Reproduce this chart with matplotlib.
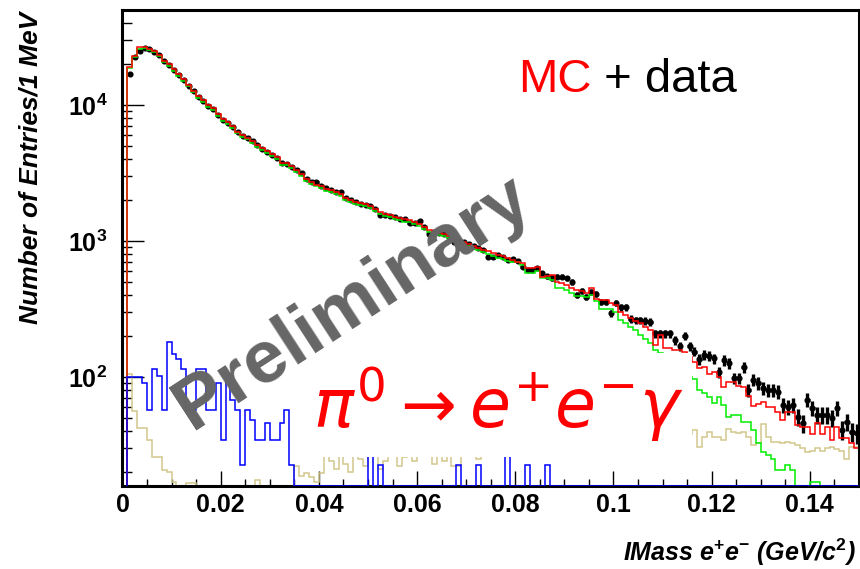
import numpy as np
import matplotlib
matplotlib.use("Agg")
import matplotlib.pyplot as plt
from matplotlib import ticker
from matplotlib.patches import Rectangle

# 1 MeV bins, first bin starts at 1 MeV
BIN_LO = 0.001
BIN_W = 0.001

# MC total (red)
red_mc = [19000, 22900, 26500, 26700, 25800, 24900, 23300, 21200, 19900, 18300,
          16800, 15500, 14000, 12700, 11600, 10800, 10000, 9460, 8560, 7860,
          7460, 7010, 6370, 6020, 5750, 5440, 5080, 4810, 4590, 4340,
          4120, 3760, 3720, 3560, 3330, 3110, 2860, 2720, 2600, 2540,
          2430, 2370, 2310, 2220, 2070, 2000, 1940, 1890, 1870, 1810,
          1720, 1640, 1590, 1550, 1500, 1470, 1440, 1430, 1380, 1330,
          1270, 1200, 1170, 1140, 1120, 1090, 1050, 1020, 984, 951,
          919, 893, 866, 844, 816, 789, 776, 750, 725, 705,
          689, 630, 633, 647, 546, 557, 562, 502, 491, 475,
          451, 436, 429, 417, 449, 375, 368, 368, 350, 338,
          302, 286, 270, 258, 248, 233, 222, 172, 204, 163,
          163, 158, 158, 153, 140, 130, 116, 118, 105, 109,
          99.5, 84, 92, 92, 86, 85, 72, 61, 63, 65,
          60.5, 60, 55.6, 48.3, 55.6, 55.6, 44.4, 43.1, 43.1, 38.1,
          46.2, 38.1, 43.1, 34.4, 43.1, 35.4, 35.4, 32.5, 29.9]

# signal MC (green)
green_mc = [18700, 22500, 26000, 26300, 25300, 24400, 22800, 20800, 19500, 17900,
            16400, 15100, 13700, 12400, 11300, 10500, 9750, 9200, 8350, 7650,
            7250, 6820, 6200, 5850, 5590, 5280, 4930, 4670, 4460, 4210,
            4000, 3650, 3610, 3450, 3230, 3010, 2770, 2630, 2520, 2460,
            2350, 2290, 2230, 2150, 2000, 1930, 1870, 1830, 1810, 1750,
            1660, 1590, 1540, 1500, 1450, 1420, 1390, 1380, 1330, 1280,
            1220, 1160, 1130, 1100, 1080, 1050, 1010, 980, 945, 915,
            880, 855, 830, 805, 780, 752, 738, 715, 695, 695,
            667, 580, 580, 605, 535, 535, 517, 449, 449, 436,
            414, 391, 395, 388, 401, 360, 318, 315, 315, 300,
            262, 250, 235, 222, 204, 191, 178, 158, 150, 140,
            129, 120, 112, 105, 100, 96, 80.5, 76, 71, 64.5,
            71, 62, 51, 52.6, 52.6, 47, 47, 40.7, 32.9, 28,
            26.5, 24.8, 20.7, 20.7, 22.5, 20.7, 0, 0, 0, 17,
            17, 0, 0, 0, 0, 0, 0, 0, 0]

# background MC (blue)
blue_mc = [100, 100, 100, 90, 57, 114, 102, 57, 182, 148,
           135, 114, 57, 57, 114, 114, 57, 57, 90, 34.4,
           102, 68, 57, 22.5, 57, 48, 34.4, 34.4, 45.7, 34.4,
           34.4, 45.7, 57, 22.5, 0, 0, 0, 0, 0, 0,
           0, 0, 0, 0, 0, 0, 0, 0, 0, 34,
           0, 22.5, 0, 0, 0, 0, 0, 0, 0, 0,
           0, 0, 0, 0, 0, 0, 0, 22.5, 0, 0,
           0, 22.5, 0, 0, 0, 0, 0, 34, 0, 0,
           0, 22.5, 0, 0, 0, 22.5, 0, 0, 0, 0,
           0, 0, 0, 0, 0, 0, 0, 0, 0, 0,
           0, 0, 0, 0, 0, 0, 0, 0, 0, 0,
           0, 0, 0, 0, 0, 0, 0, 0, 0, 0,
           0, 0, 0, 0, 0, 0, 0, 0, 0, 0,
           0, 0, 0, 0, 0, 0, 0, 0, 0, 0,
           0, 0, 0, 0, 0, 0, 0, 0, 0]

# background MC (tan)
tan_mc = [106, 56.5, 42, 42, 34.4, 26, 26, 20.7, 20.1, 17,
          0, 0, 16.5, 16.5, 0, 0, 0, 0, 0, 0,
          0, 0, 0, 0, 0, 0, 17.5, 0, 0, 0,
          0, 0, 0, 0, 22, 18.7, 19.7, 18.5, 17, 19.8,
          30, 24, 21, 28, 23, 20, 32, 25, 22, 30,
          27, 21, 24, 33, 29, 22, 26, 31, 24, 28,
          35, 27, 23, 30, 24, 29, 22, 22, 31, 27,
          33, 25, 29, 36, 28, 30, 34, 27, 32, 29,
          38, 30, 33, 35, 28, 36, 31, 34, 38, 27,
          33, 36, 40, 32, 35, 38, 30, 41, 36, 34,
          39, 42, 33, 37, 40, 35, 44, 38, 36, 41,
          39, 37, 43, 40, 38, 40.7, 30.7, 36.4, 39.6, 36.4,
          36.4, 34.5, 41.3, 39.6, 38.6, 39.6, 36.4, 31.6, 32.5, 45.1,
          36.4, 33.5, 33.5, 32.5, 33.5, 32.5, 31.6, 29.9, 28.3, 28.7,
          29.9, 28.7, 29.9, 30.7, 29.4, 28.7, 25.1, 30.7, 30.7]

# data points
data = [16800, 22600, 25000, 26400, 25600, 24700, 23200, 21000, 19800, 18200,
        16700, 15400, 13900, 12600, 11500, 10700, 9900, 9400, 8500, 7800,
        7400, 6950, 6300, 5950, 5700, 5400, 5050, 4750, 4550, 4300,
        4080, 3740, 3700, 3530, 3300, 3140, 2860, 2720, 2730, 2540,
        2450, 2370, 2310, 2300, 2070, 2000, 1940, 1870, 1840, 1810,
        1720, 1552, 1552, 1530, 1500, 1453, 1453, 1349, 1349, 1410,
        1270, 1125, 1160, 1150, 1120, 1064, 988, 1000, 977, 943,
        919, 893, 860, 763, 763, 789, 763, 725, 738, 713,
        647, 612, 612, 633, 578, 553, 535, 547, 547, 532,
        500, 401, 431, 385, 420, 407, 358, 358, 294, 352,
        325, 325, 268, 262, 262, 258, 255, 209, 209, 209,
        209, 187, 169, 200, 169, 154, 135, 145, 143, 137,
        108, 133, 126, 98, 98, 118, 80, 95, 90, 83,
        80, 80, 78, 62, 60.5, 62, 51, 45.7, 68, 59,
        52.6, 52.6, 52.6, 49.7, 59, 40.7, 47, 39.6, 38.6]

x_tick_values = [0, 0.02, 0.04, 0.06, 0.08, 0.1, 0.12, 0.14]
x_tick_labels = ['0', '0.02', '0.04', '0.06', '0.08', '0.1', '0.12', '0.14']

X_MIN, X_MAX = 0.0, 0.15
Y_MIN, Y_MAX = 15.8, 5.0e4

plt.rcParams['font.family'] = ['Liberation Sans', 'DejaVu Sans']
plt.rcParams['mathtext.fontset'] = 'custom'
plt.rcParams['mathtext.rm'] = 'Liberation Sans:bold'
plt.rcParams['mathtext.bf'] = 'Liberation Sans:bold'
plt.rcParams['mathtext.it'] = 'Liberation Sans:bold:italic'

edges = BIN_LO + BIN_W * np.arange(len(red_mc) + 1)
centers = edges[:-1] + BIN_W / 2
data = np.array(data, dtype=float)

fig = plt.figure(figsize=(8.6, 5.69), dpi=100)
ax = fig.add_axes([0.1424, 0.1459, 0.8564, 0.8366])
ax.set_yscale('log', nonpositive='clip')

# ROOT draws empty bins at the axis minimum
def floor_at_min(vals):
    return np.maximum(np.array(vals, dtype=float), Y_MIN)

ax.errorbar(centers, data, xerr=0.45 * BIN_W, yerr=np.sqrt(data), fmt='o',
            color='black', ms=3.4, elinewidth=2.4, capsize=0, zorder=2.0)
ax.stairs(floor_at_min(tan_mc), edges, baseline=Y_MIN, color='#d2c88c', lw=1.1, zorder=2.1)
ax.stairs(floor_at_min(green_mc), edges, baseline=Y_MIN, color='#00ee00', lw=1.1, zorder=2.2)
ax.stairs(floor_at_min(red_mc), edges, baseline=Y_MIN, color='#ff0000', lw=1.1, zorder=2.3)
ax.stairs(floor_at_min(blue_mc), edges, baseline=Y_MIN, color='#0000ff', lw=1.1, zorder=2.6)

# white pave behind the decay label
ax.add_patch(Rectangle((0.036, 25.8), 0.080, 124.2, facecolor='white',
                       edgecolor='none', zorder=2.8))

ax.set_xlim(X_MIN, X_MAX)
ax.set_ylim(Y_MIN, Y_MAX)

ax.xaxis.set_major_locator(ticker.FixedLocator(x_tick_values))
ax.xaxis.set_major_formatter(ticker.FixedFormatter(x_tick_labels))
ax.xaxis.set_minor_locator(ticker.MultipleLocator(0.005))
ax.yaxis.set_major_formatter(ticker.FuncFormatter(
    lambda v, pos: r'$10^{%d}$' % int(round(np.log10(v)))))
ax.yaxis.set_minor_formatter(ticker.NullFormatter())

ax.tick_params(axis='x', which='major', direction='in', length=10.8, width=1,
               top=False, labelsize=18, pad=5)
ax.tick_params(axis='x', which='minor', direction='in', length=5.4, width=1, top=False)
ax.tick_params(axis='y', which='major', direction='in', length=16, width=1,
               right=False, labelsize=18, pad=11)
ax.tick_params(axis='y', which='minor', direction='in', length=7.5, width=1, right=False)
for lab in ax.get_xticklabels():
    lab.set_fontweight('bold')

for sp in ax.spines.values():
    sp.set_linewidth(2.2)

ax.set_ylabel('Number of Entries/1 MeV', fontsize=19, fontweight='bold',
              fontstyle='italic', loc='top')
ax.yaxis.set_label_coords(-0.1147, 0.997)
ax.yaxis.label.set_va('baseline')

ax.set_xlabel(r'IMass e$^{+}$e$^{-}$ (GeV/c$^{2}$)', fontsize=18, fontweight='bold',
              fontstyle='italic', loc='right')
ax.xaxis.set_label_coords(0.996, -0.1576)
ax.xaxis.label.set_va('baseline')

t_mc = ax.text(0.537, 0.828, 'MC', color='#ff0000', fontsize=34,
               transform=ax.transAxes, ha='left', va='baseline', zorder=4)
ax.annotate(' + data', xy=(1, 0), xycoords=t_mc, ha='left', va='bottom',
            fontsize=34, color='black', zorder=4)

ax.text(0.259, 0.122, r'$\pi^{0} \rightarrow e^{+}e^{-}\gamma$', transform=ax.transAxes,
        color='#ff0000', fontsize=48, math_fontfamily='dejavusans',
        ha='left', va='baseline', zorder=3)

ax.text(0.313, 0.385, 'Preliminary', transform=ax.transAxes, rotation=33,
        fontsize=54, fontweight='bold', color='#666666', ha='center', va='center',
        zorder=5)

fig.savefig('out.png', dpi=100)
